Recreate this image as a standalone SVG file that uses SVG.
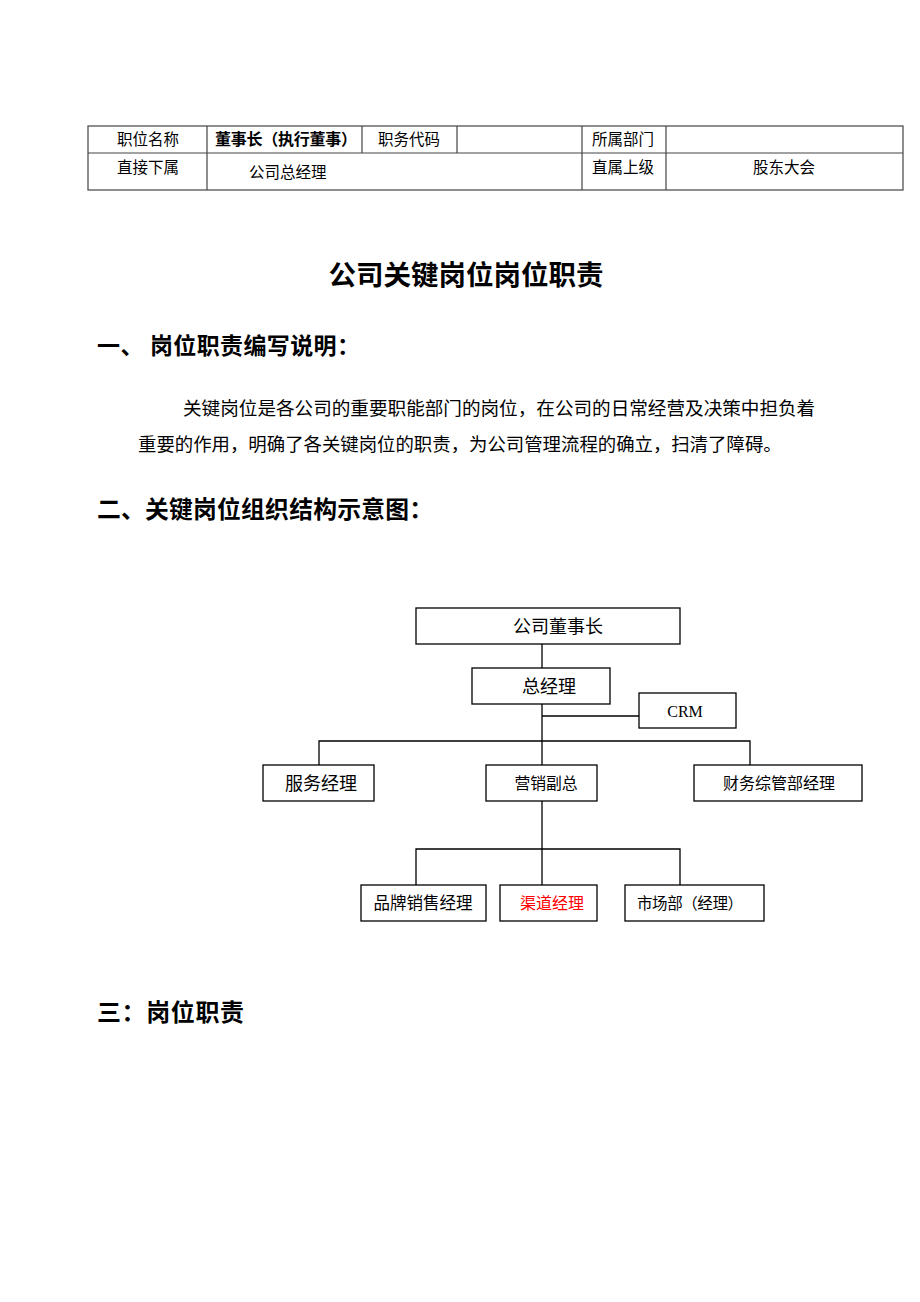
<svg xmlns="http://www.w3.org/2000/svg" width="920" height="1302" viewBox="0 0 920 1302">
<style>
.t{font-family:"Liberation Serif","Noto Sans CJK SC",serif;fill:#000}
.b{font-weight:bold}
.box{fill:#fff;stroke:#000;stroke-width:1.3}
.ln{stroke:#000;stroke-width:1.3;fill:none}
.tb{stroke:#444;stroke-width:1.2;fill:none}
</style>
<rect width="920" height="1302" fill="#fff"/>
<g id="table">
<rect class="tb" x="88" y="126" width="815" height="64"/>
<line class="tb" x1="88" y1="153" x2="903" y2="153"/>
<line class="tb" x1="207" y1="126" x2="207" y2="190"/>
<line class="tb" x1="362" y1="126" x2="362" y2="153"/>
<line class="tb" x1="457" y1="126" x2="457" y2="153"/>
<line class="tb" x1="582" y1="126" x2="582" y2="190"/>
<line class="tb" x1="666" y1="126" x2="666" y2="190"/>
<text class="t" x="148" y="145" font-size="15.5" text-anchor="middle">职位名称</text>
<text class="t b" x="215" y="145" font-size="16" textLength="142" lengthAdjust="spacing">董事长（执行董事）</text>
<text class="t" x="409" y="145" font-size="15.5" text-anchor="middle">职务代码</text>
<text class="t" x="623" y="145" font-size="15.5" text-anchor="middle">所属部门</text>
<text class="t" x="148" y="173" font-size="15.5" text-anchor="middle">直接下属</text>
<text class="t" x="249" y="178" font-size="15.5">公司总经理</text>
<text class="t" x="623" y="173" font-size="15.5" text-anchor="middle">直属上级</text>
<text class="t" x="784" y="173" font-size="15.5" text-anchor="middle">股东大会</text>
</g>
<g id="headings">
<text class="t b" x="466" y="285" font-size="27.5" text-anchor="middle">公司关键岗位岗位职责</text>
<text class="t b" x="97" y="354" font-size="23" textLength="263" lengthAdjust="spacing">一、 岗位职责编写说明：</text>
<text class="t" x="183" y="415" font-size="18.6">关键岗位是各公司的重要职能部门的岗位，在公司的日常经营及决策中担负着</text>
<text class="t" x="138" y="451" font-size="18.4">重要的作用，明确了各关键岗位的职责，为公司管理流程的确立，扫清了障碍。</text>
<text class="t b" x="97" y="518" font-size="23.8" textLength="336" lengthAdjust="spacing">二、关键岗位组织结构示意图：</text>
<text class="t b" x="97" y="1021" font-size="24" textLength="147" lengthAdjust="spacing">三：岗位职责</text>
</g>
<g id="connectors">
<line class="ln" x1="542" y1="644" x2="542" y2="668"/>
<line class="ln" x1="542" y1="704" x2="542" y2="765"/>
<line class="ln" x1="542" y1="716" x2="639" y2="716"/>
<polyline class="ln" points="319,765 319,741 750,741 750,765"/>
<line class="ln" x1="542" y1="801" x2="542" y2="885"/>
<polyline class="ln" points="416,885 416,849 680,849 680,885"/>
</g>
<g id="n-chairman"><rect class="box" x="416" y="608" width="264" height="36"/><text class="t" x="558" y="633" font-size="18" text-anchor="middle">公司董事长</text></g>
<g id="n-gm"><rect class="box" x="472" y="668" width="138" height="36"/><text class="t" x="549" y="693" font-size="18" text-anchor="middle">总经理</text></g>
<g id="n-crm"><rect class="box" x="639" y="693" width="97" height="35"/><text class="t" x="685" y="717" font-size="16" text-anchor="middle">CRM</text></g>
<g id="n-service"><rect class="box" x="263" y="765" width="111" height="36"/><text class="t" x="321" y="790" font-size="18" text-anchor="middle">服务经理</text></g>
<g id="n-sales-vp"><rect class="box" x="486" y="765" width="111" height="36"/><text class="t" x="546" y="789" font-size="15.8" text-anchor="middle">营销副总</text></g>
<g id="n-finance"><rect class="box" x="694" y="765" width="168" height="36"/><text class="t" x="779" y="789" font-size="16" text-anchor="middle">财务综管部经理</text></g>
<g id="n-brand"><rect class="box" x="361" y="885" width="125" height="36"/><text class="t" x="423" y="909" font-size="16.5" text-anchor="middle">品牌销售经理</text></g>
<g id="n-channel"><rect class="box" x="500" y="885" width="97" height="36"/><text class="t" x="552" y="909" font-size="16" text-anchor="middle" style="fill:#ff0000">渠道经理</text></g>
<g id="n-market"><rect class="box" x="625" y="885" width="139" height="36"/><text class="t" x="637" y="909" font-size="15.5" textLength="106" lengthAdjust="spacing">市场部（经理）</text></g>
</svg>
